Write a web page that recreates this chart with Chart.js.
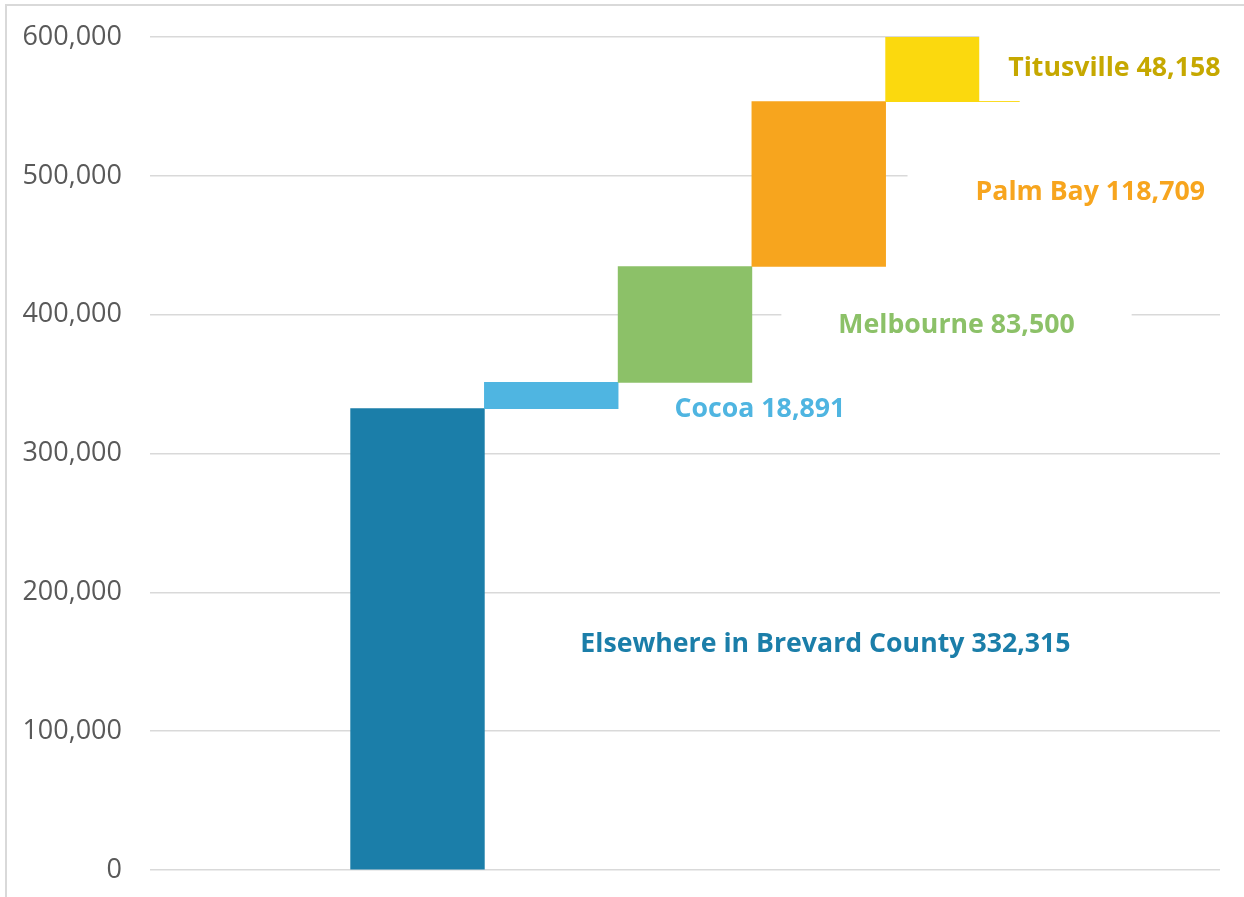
<!DOCTYPE html>
<html>
<head>
<meta charset="utf-8">
<script src="https://cdn.jsdelivr.net/npm/chart.js@4.4.1/dist/chart.umd.min.js"></script>
<style>
  html, body { margin: 0; padding: 0; background: #fff; overflow: hidden; }
  #frame { position: absolute; left: 5px; top: 4px; width: 1300px; height: 1000px; border: 2px solid #d9d9d9; }
  #wrap { position: absolute; left: 0; top: 0; width: 1244px; height: 897px; }
</style>
</head>
<body>
<div id="frame"></div>
<div id="wrap"><canvas id="chart"></canvas></div>
<script>
const categories = ["Elsewhere in Brevard County", "Cocoa", "Melbourne", "Palm Bay", "Titusville"];
const populations = [332315, 18891, 83500, 118709, 48158];
const yTicks = [0, 100000, 200000, 300000, 400000, 500000, 600000];

const barColors = ["#1b7ea9", "#4fb5e1", "#8cc168", "#f7a51e", "#fbd90e"];
const textColors = ["#1b7ea9", "#4fb5e1", "#8cc168", "#f7a51e", "#c6a800"];

// label anchor (category index, y value) and white box padding
const labelPos = [
  { x: 5.05, y: 162700, padX: 10, padY: 12 },
  { x: 4.56, y: 332000, padX: 10, padY: 10 },
  { x: 6.03, y: 392500, padX: 57, padY: 20 },
  { x: 7.03, y: 488300, padX: 68, padY: 20 },
  { x: 7.21, y: 577600, padX: 29, padY: 33 }
];

// two empty slots each side so bars land where the picture has them
const slots = ["", ""].concat(categories, ["", ""]);
let running = 0;
const floating = [null, null];
populations.forEach(v => { floating.push([running, running + v]); running += v; });
floating.push(null, null);
const colors = [null, null].concat(barColors, [null, null]);

const fmt = n => n.toLocaleString("en-US");

const labelPlugin = {
  id: "waterfallLabels",
  afterDatasetsDraw(chart) {
    const { ctx, scales } = chart;
    ctx.save();
    ctx.font = "bold 26.7px 'Open Sans'";
    ctx.textAlign = "center";
    ctx.textBaseline = "middle";
    categories.forEach((c, i) => {
      const p = labelPos[i];
      const text = c + " " + fmt(populations[i]);
      const cx = scales.x.getPixelForValue(p.x);
      const cy = scales.y.getPixelForValue(p.y);
      const w = ctx.measureText(text).width;
      ctx.fillStyle = "#fff";
      ctx.fillRect(cx - w / 2 - p.padX, cy - p.padY, w + 2 * p.padX, 2 * p.padY);
      ctx.fillStyle = textColors[i];
      ctx.fillText(text, cx, cy);
    });
    ctx.restore();
  }
};

new Chart(document.getElementById("chart"), {
  type: "bar",
  data: {
    labels: slots,
    datasets: [{
      data: floating,
      backgroundColor: colors,
      borderWidth: 0,
      barPercentage: 1,
      categoryPercentage: 1
    }]
  },
  options: {
    responsive: true,
    maintainAspectRatio: false,
    animation: false,
    layout: { padding: { left: 0, top: 37, right: 24, bottom: 27 } },
    plugins: { legend: { display: false }, tooltip: { enabled: false } },
    scales: {
      x: { display: false, offset: false },
      y: {
        min: 0,
        max: 600000,
        afterFit: s => { s.width = 150; s.paddingTop = 0; s.paddingBottom = 0; },
        afterBuildTicks: s => { s.ticks = yTicks.map(v => ({ value: v })); },
        border: { display: false },
        grid: { color: "#d9d9d9", lineWidth: 1.5, drawTicks: false },
        ticks: {
          padding: 28,
          color: "#595959",
          font: { family: "'Open Sans'", size: 27 },
          callback: v => fmt(v)
        }
      }
    }
  },
  plugins: [labelPlugin]
});
</script>
</body>
</html>
